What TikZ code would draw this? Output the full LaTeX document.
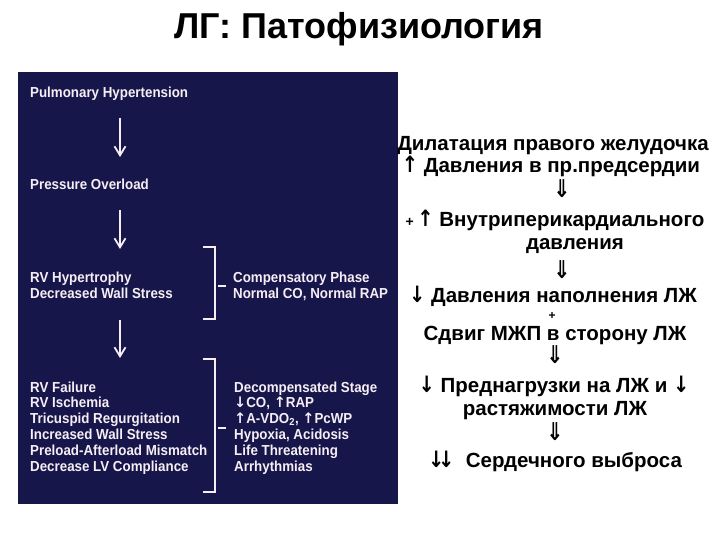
\documentclass[tikz,border=0pt]{standalone}
\usepackage{fontspec}
\setmainfont{Liberation Sans}
\newfontfamily\symfont{DejaVu Sans}
\newfontfamily\slidefont[FakeStretch=0.92]{Liberation Sans}
\usetikzlibrary{arrows.meta}
\definecolor{slidenavy}{RGB}{22,22,74}
\definecolor{slidetext}{RGB}{246,238,244}
\newcommand{\arrup}{{\symfont ↑}}
\newcommand{\arrdn}{{\symfont ↓}}
\newcommand{\bigup}{\scalebox{0.95}[1.1]{\symfont ↑}}
\newcommand{\bigdn}{\scalebox{0.95}[1.1]{\symfont ↓}}
\newcommand{\dbldn}{\scalebox{1}[1.2]{\symfont ⇓}}
\tikzset{
  panel/.style={font=\slidefont\bfseries\fontsize{14.5}{15.8}\selectfont, text=slidetext,
    anchor=base west, inner sep=0pt, align=left},
  rline/.style={font=\bfseries\fontsize{20.5}{24}\selectfont, anchor=base, inner sep=0pt},
  flow/.style={draw=slidetext, line width=1.2pt,
    -{Straight Barb[length=9pt,width=11pt,line width=1.8pt]}},
  brace/.style={draw=slidetext, line width=1.2pt}
}
\begin{document}
\begin{tikzpicture}[x=1pt,y=-1pt]
\useasboundingbox (0,0) rectangle (720,540);
\fill[white] (0,0) rectangle (720,540);
\node[font=\bfseries\fontsize{36}{40}\selectfont, anchor=base, inner sep=0pt] (title) at (359,39) {ЛГ: Патофизиология};

% slide panel
\fill[slidenavy] (18,72) rectangle (398,504);
\node[panel] (ph) at (30,98) {Pulmonary Hypertension};
\node[panel] (po) at (30,190) {Pressure Overload};
\node[panel] (rvh) at (30,298) {RV Hypertrophy\\Decreased Wall Stress};
\node[panel] (comp) at (233,298) {Compensatory Phase\\Normal CO, Normal RAP};
\node[panel] (rvf) at (30,471) {RV Failure\\RV Ischemia\\Tricuspid Regurgitation\\Increased Wall Stress\\Preload-Afterload Mismatch\\Decrease LV Compliance};
\node[panel] (decomp) at (234,471) {Decompensated Stage\\\arrdn CO, \arrup RAP\\\arrup A-VDO\textsubscript{2}, \arrup PcWP\\Hypoxia, Acidosis\\Life Threatening\\Arrhythmias};

\coordinate (f1) at (120,118); \coordinate (t1) at (120,157);
\coordinate (f2) at (120,210); \coordinate (t2) at (120,249);
\coordinate (f3) at (120,320); \coordinate (t3) at (120,358);
\draw[flow] (f1) -- (t1);
\draw[flow] (f2) -- (t2);
\draw[flow] (f3) -- (t3);

\draw[brace] (203,247) -- (215,247) -- (215,319) -- (203,319);
\draw[brace] (218,286) -- (226,286);
\draw[brace] (203,359) -- (215,359) -- (215,492) -- (203,492);
\draw[brace] (218,428) -- (226,428);

% right column
\node[rline] (r1) at (553,151) {Дилатация правого желудочка};
\node[rline] (r2) at (551,173) {\bigup\ Давления в пр.предсердии};
\node[rline] (d1) at (562,198) {\dbldn};
\node[rline] (r3) at (555,226) {{\fontsize{14}{14}\selectfont+}\,\bigup\ Внутриперикардиального};
\node[rline] (r4) at (575,249) {давления};
\node[rline] (d2) at (562,278) {\dbldn};
\node[rline] (r5) at (553,302) {\bigdn\ Давления наполнения ЛЖ};
\node[rline, font=\bfseries\fontsize{12}{12}\selectfont] (plus) at (552,319) {+};
\node[rline] (r6) at (555,340) {Сдвиг МЖП в сторону ЛЖ};
\node[rline] (d3) at (555,363) {\dbldn};
\node[rline] (r7) at (554,392) {\bigdn\ Преднагрузки на ЛЖ и \bigdn};
\node[rline] (r8) at (555,415) {растяжимости ЛЖ};
\node[rline] (d4) at (555,440) {\dbldn};
\node[rline] (r9) at (555,467) {\bigdn\kern-0.3em\bigdn\ \ Сердечного выброса};
\end{tikzpicture}
\end{document}
